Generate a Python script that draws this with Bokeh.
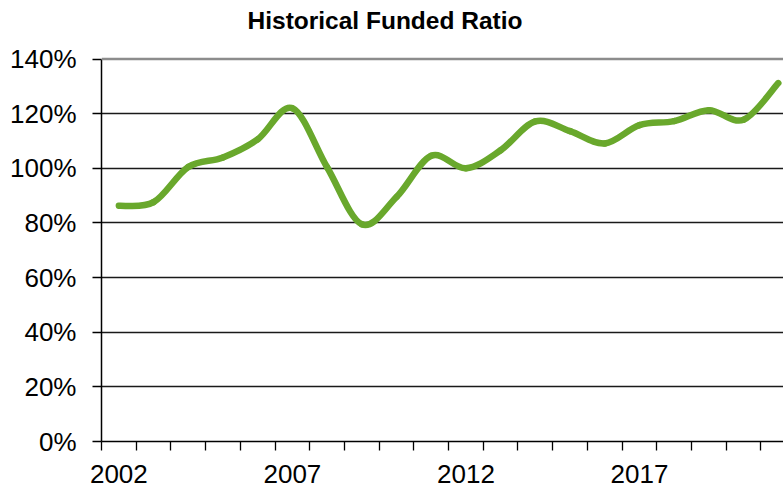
from bokeh.plotting import figure
from bokeh.models import (Range1d, FixedTicker, PrintfTickFormatter, Span, Label)
from bokeh.embed import file_html
from bokeh.resources import INLINE

# ---- data ----
years = [2002, 2003, 2004, 2005, 2006, 2007, 2008, 2009, 2010, 2011,
         2012, 2013, 2014, 2015, 2016, 2017, 2018, 2019, 2020, 2021]
funded_ratio = [86.3, 87.6, 100.5, 104.0, 110.6, 122.0, 100.4, 79.5, 89.5, 104.6,
                100.0, 106.6, 117.2, 113.6, 109.1, 115.8, 117.3, 121.3, 117.8, 131.2]
x_tick_labels = ["2002", "2007", "2012", "2017"]
y_ticks = [0, 20, 40, 60, 80, 100, 120, 140]
title_text = "Historical Funded Ratio"

GREEN = "#69a82c"
FONT = "Liberation Sans"

# frame spans the full height so the title can sit inside it, above the 140% line
FRAME_H = 440.5
PLOT_H = 382.0
y_top = y_ticks[-1] * FRAME_H / PLOT_H

p = figure(width=783, height=487, output_backend="svg", toolbar_location=None,
           x_range=Range1d(years[0] - 0.5, years[-1] + 0.15),
           y_range=Range1d(0, y_top),
           min_border_left=101, min_border_right=0, min_border_top=0,
           min_border_bottom=46)
p.title = None
p.outline_line_color = None
p.background_fill_color = "white"
p.border_fill_color = "white"

title = Label(text=title_text, x=283.5, y=FRAME_H - 19, x_units="screen", y_units="screen",
              text_align="center", text_baseline="alphabetic",
              text_font=FONT, text_font_size="24.5px", text_font_style="bold",
              text_color="black")
p.add_layout(title)

# ---- smoothed line (Excel-like Catmull-Rom bezier) ----
n = len(years)
x0, y0, x1, y1, cx0, cy0, cx1, cy1 = [], [], [], [], [], [], [], []
for i in range(n - 1):
    ip = max(i - 1, 0)
    inx = min(i + 2, n - 1)
    x0.append(years[i]); y0.append(funded_ratio[i])
    x1.append(years[i + 1]); y1.append(funded_ratio[i + 1])
    cx0.append(years[i] + (years[i + 1] - years[ip]) / 6.0)
    cy0.append(funded_ratio[i] + (funded_ratio[i + 1] - funded_ratio[ip]) / 6.0)
    cx1.append(years[i + 1] - (years[inx] - years[i]) / 6.0)
    cy1.append(funded_ratio[i + 1] - (funded_ratio[inx] - funded_ratio[i]) / 6.0)

p.bezier(x0=x0, y0=y0, x1=x1, y1=y1, cx0=cx0, cy0=cy0, cx1=cx1, cy1=cy1,
         line_color=GREEN, line_width=6.5, line_cap="round")

# ---- grid ----
p.xgrid.visible = False
p.ygrid.ticker = FixedTicker(ticks=[v for v in y_ticks if 0 < v < 140])
p.ygrid.grid_line_color = "#1a1a1a"
p.ygrid.grid_line_width = 1.3
top = Span(location=y_ticks[-1], dimension="width", line_color="#8c8c8c", line_width=2.5)
p.add_layout(top)

# ---- x axis: categories with boundary ticks ----
label_pos = [int(s) for s in x_tick_labels]
xa = p.xaxis[0]
xa.ticker = FixedTicker(ticks=label_pos,
                        minor_ticks=[y - 0.5 for y in years] + [years[-1] + 0.5])
xa.major_label_overrides = {v: s for v, s in zip(label_pos, x_tick_labels)}
xa.major_tick_out = 0
xa.major_tick_in = 0
xa.minor_tick_out = 9
xa.minor_tick_in = 0
xa.minor_tick_line_color = "black"
xa.minor_tick_line_width = 1.3
xa.axis_line_color = "black"
xa.axis_line_width = 1.5
xa.major_label_text_font = FONT
xa.major_label_text_font_size = "26px"
xa.major_label_text_color = "black"
xa.major_label_standoff = 14

# ---- y axis ----
ya = p.yaxis[0]
ya.ticker = FixedTicker(ticks=y_ticks)
ya.formatter = PrintfTickFormatter(format="%d%%")
ya.bounds = (0, 140)
ya.major_tick_out = 9
ya.major_tick_in = 0
ya.minor_tick_out = 0
ya.minor_tick_in = 0
ya.major_tick_line_color = "black"
ya.major_tick_line_width = 1.3
ya.axis_line_color = "black"
ya.axis_line_width = 1.5
ya.major_label_text_font = FONT
ya.major_label_text_font_size = "26px"
ya.major_label_text_color = "black"
ya.major_label_standoff = 16

open("out.html", "w").write(file_html(p, INLINE))
